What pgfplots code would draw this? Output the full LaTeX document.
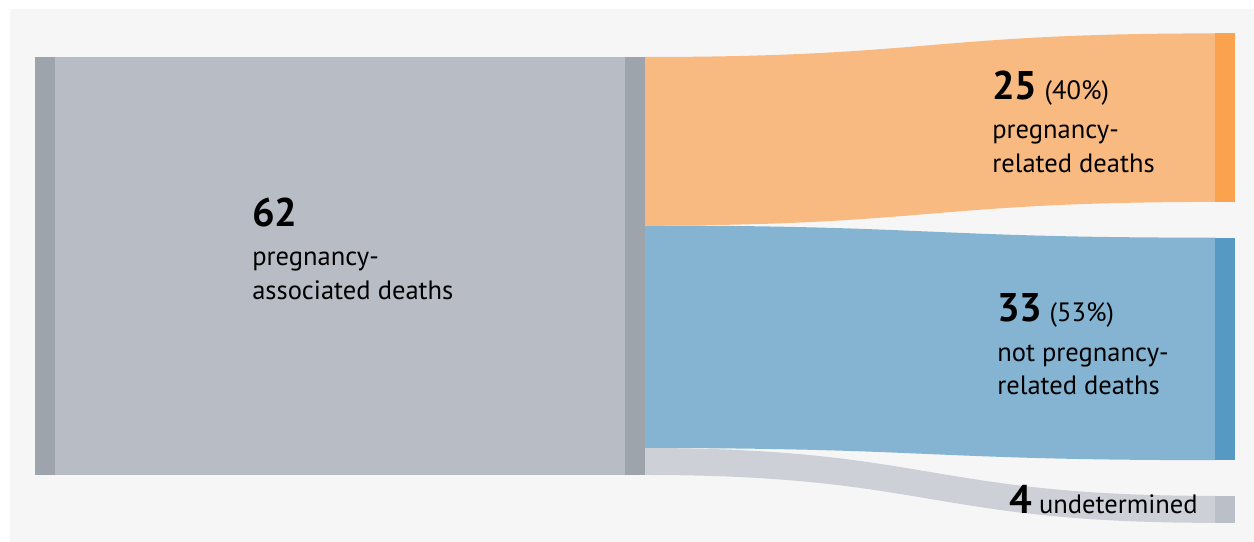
\documentclass[border=0pt]{standalone}
\usepackage{pgfplots}
\pgfplotsset{compat=1.18}
\usepackage{fontspec}
\setmainfont{PT Sans}

\definecolor{panel}{HTML}{F6F6F6}
\definecolor{nodedark}{HTML}{9DA4AC}
\definecolor{nodelight}{HTML}{B8BCC4}
\definecolor{orflow}{HTML}{F8BA80}
\definecolor{ornode}{HTML}{FBA24E}
\definecolor{blflow}{HTML}{84B4D2}
\definecolor{blnode}{HTML}{5699C3}
\definecolor{grflow}{HTML}{CDD1D7}
\definecolor{grnode}{HTML}{BABFC8}

\newcommand{\numfont}{\fontsize{30}{33}\bfseries\selectfont}
\newcommand{\labfont}{\fontsize{19.9}{24}\mdseries\selectfont}

\begin{document}
\begin{tikzpicture}
\begin{axis}[
  scale only axis,
  width=940.5pt, height=406.5pt,
  xmin=0, xmax=1254,
  ymin=-9.938, ymax=70.454,
  hide axis, clip=false,
]
% background and panel
\addplot[fill=white, draw=none] coordinates {(0,-9.938) (1254,-9.938) (1254,70.454) (0,70.454)} -- cycle;
\addplot[fill=panel, draw=none] coordinates {(10,-9.938) (1254,-9.938) (1254,69.12) (10,69.12)} -- cycle;

% source node: 62 pregnancy-associated deaths
\addplot[fill=nodelight, draw=none] coordinates {(55,0) (625,0) (625,62) (55,62)} -- cycle;
\addplot[fill=nodedark, draw=none] coordinates {(35,0) (55,0) (55,62) (35,62)} -- cycle;
\addplot[fill=nodedark, draw=none] coordinates {(625,0) (645,0) (645,62) (625,62)} -- cycle;

% flows (left: stacked 0..62, right: target nodes with gaps)
\addplot[fill=orflow, draw=none] coordinates {(645,37) (645,62)}
  .. controls (930,62) and (930,65.5) .. (1215,65.5) -- (1215,40.5)
  .. controls (930,40.5) and (930,37) .. (645,37) -- cycle;
\addplot[fill=blflow, draw=none] coordinates {(645,4) (645,37)}
  .. controls (930,37) and (930,35.2) .. (1215,35.2) -- (1215,2.2)
  .. controls (930,2.2) and (930,4) .. (645,4) -- cycle;
\addplot[fill=grflow, draw=none] coordinates {(645,0) (645,4)}
  .. controls (930,4) and (930,-3.1) .. (1215,-3.1) -- (1215,-7.1)
  .. controls (930,-7.1) and (930,0) .. (645,0) -- cycle;

% target nodes
\addplot[fill=ornode, draw=none] coordinates {(1215,40.5) (1235,40.5) (1235,65.5) (1215,65.5)} -- cycle;
\addplot[fill=blnode, draw=none] coordinates {(1215,2.2) (1235,2.2) (1235,35.2) (1215,35.2)} -- cycle;
\addplot[fill=grnode, draw=none] coordinates {(1215,-7.1) (1235,-7.1) (1235,-3.1) (1215,-3.1)} -- cycle;

% labels
\node[anchor=base west, inner sep=0] at (axis cs:252,36.93) {\numfont 62};
\node[anchor=base west, inner sep=0] at (axis cs:252,31.0) {\labfont pregnancy-};
\node[anchor=base west, inner sep=0] at (axis cs:252,26.1) {\labfont associated deaths};

\node[anchor=base west, inner sep=0] at (axis cs:992,55.73) {\numfont 25\labfont\ (40\%)};
\node[anchor=base west, inner sep=0] at (axis cs:992,49.94) {\labfont pregnancy-};
\node[anchor=base west, inner sep=0] at (axis cs:992,44.94) {\labfont related deaths};

\node[anchor=base west, inner sep=0] at (axis cs:997,22.74) {\numfont 33\labfont\ (53\%)};
\node[anchor=base west, inner sep=0] at (axis cs:997,16.8) {\labfont not pregnancy-};
\node[anchor=base west, inner sep=0] at (axis cs:997,11.87) {\labfont related deaths};

\node[anchor=base east, inner sep=0] at (axis cs:1198,-5.68) {\numfont 4\labfont\ undetermined};
\end{axis}
\end{tikzpicture}
\end{document}
